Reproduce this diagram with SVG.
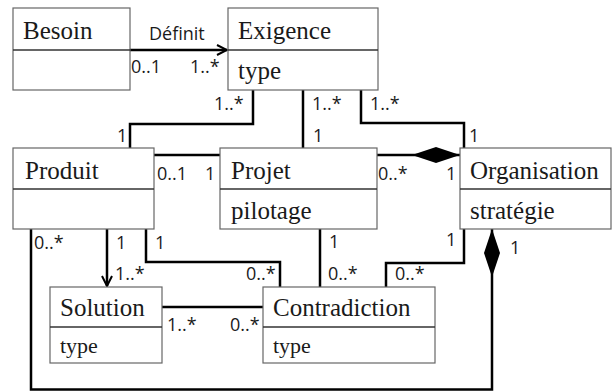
<svg xmlns="http://www.w3.org/2000/svg" width="616" height="392" viewBox="0 0 616 392">
<style>
.box{fill:#fff;stroke:#666;stroke-width:1.2}
.div{stroke:#333;stroke-width:1.6}
.name{font-family:"Liberation Serif",serif;font-size:25px;fill:#1a1a1a}
.attr{font-family:"Liberation Serif",serif;font-size:25px;fill:#1a1a1a}
.attr2{font-family:"Liberation Serif",serif;font-size:22px;fill:#1a1a1a}
.lbl{font-family:"Open Sans","DejaVu Sans",sans-serif;font-size:18px;fill:#1a1a1a}
.con{fill:none;stroke:#000;stroke-width:2.5;stroke-linejoin:miter}
</style>
<defs>
<marker id="open" markerUnits="userSpaceOnUse" viewBox="0 0 12 12" refX="11" refY="6" markerWidth="12" markerHeight="12" orient="auto">
<path d="M1,1 L11,6 L1,11" fill="none" stroke="#000" stroke-width="2"/>
</marker>
<marker id="diamond" markerUnits="userSpaceOnUse" viewBox="0 0 48 16" refX="48" refY="8" markerWidth="48" markerHeight="16" orient="auto">
<path d="M0,8 L24,0 L48,8 L24,16 Z" fill="#000"/>
</marker>
</defs>

<g id="connectors">
<path class="con" d="M130,50 H227" marker-end="url(#open)"/>
<path class="con" d="M253,90 V124 H130 V148"/>
<path class="con" d="M303,90 V148"/>
<path class="con" d="M361,90 V123 H464 V148"/>
<path class="con" d="M154,155 H220"/>
<path class="con" d="M377,155 H460" marker-end="url(#diamond)"/>
<path class="con" d="M107,229 V286" marker-end="url(#open)"/>
<path class="con" d="M146,229 V262 H280 V287"/>
<path class="con" d="M31,229 V389.5 H492 V229" marker-end="url(#diamond)"/>
<path class="con" d="M320,229 V287"/>
<path class="con" d="M464,229 V263 H386 V287"/>
<path class="con" d="M162,307 H263"/>
<text class="lbl" x="149" y="40">Définit</text>
<text class="lbl" x="131" y="73">0..1</text>
<text class="lbl" x="190" y="73">1..*</text>
<text class="lbl" x="214" y="110">1..*</text>
<text class="lbl" x="117" y="142">1</text>
<text class="lbl" x="312" y="110">1..*</text>
<text class="lbl" x="313" y="142">1</text>
<text class="lbl" x="370" y="110">1..*</text>
<text class="lbl" x="469" y="142">1</text>
<text class="lbl" x="157" y="180">0..1</text>
<text class="lbl" x="205" y="180">1</text>
<text class="lbl" x="378" y="180">0..*</text>
<text class="lbl" x="446" y="180">1</text>
<text class="lbl" x="34" y="249">0..*</text>
<text class="lbl" x="116" y="249">1</text>
<text class="lbl" x="155" y="249">1</text>
<text class="lbl" x="115" y="280">1..*</text>
<text class="lbl" x="246" y="280">0..*</text>
<text class="lbl" x="329" y="248">1</text>
<text class="lbl" x="328" y="280">0..*</text>
<text class="lbl" x="446" y="246">1</text>
<text class="lbl" x="395" y="280">0..*</text>
<text class="lbl" x="510" y="254">1</text>
<text class="lbl" x="167" y="331">1..*</text>
<text class="lbl" x="230" y="331">0..*</text>
</g>

<g id="Besoin">
<rect class="box" x="13" y="8" width="117" height="82"/>
<line class="div" x1="13" y1="50" x2="130" y2="50"/>
<text class="name" x="23" y="39">Besoin</text>
</g>
<g id="Exigence">
<rect class="box" x="228" y="8" width="150" height="82"/>
<line class="div" x1="228" y1="50" x2="378" y2="50"/>
<text class="name" x="238" y="39">Exigence</text>
<text class="attr" x="238" y="79">type</text>
</g>
<g id="Produit">
<rect class="box" x="13" y="148" width="141" height="81"/>
<line class="div" x1="13" y1="189" x2="154" y2="189"/>
<text class="name" x="25" y="179">Produit</text>
</g>
<g id="Projet">
<rect class="box" x="220" y="148" width="157" height="81"/>
<line class="div" x1="220" y1="189" x2="377" y2="189"/>
<text class="name" x="231" y="179">Projet</text>
<text class="attr" x="231" y="219">pilotage</text>
</g>
<g id="Organisation">
<rect class="box" x="460" y="148" width="151" height="81"/>
<line class="div" x1="460" y1="189" x2="611" y2="189"/>
<text class="name" x="470" y="179">Organisation</text>
<text class="attr" x="470" y="219">stratégie</text>
</g>
<g id="Solution">
<rect class="box" x="50" y="287" width="112" height="76"/>
<line class="div" x1="50" y1="327" x2="162" y2="327"/>
<text class="name" x="60" y="316">Solution</text>
<text class="attr2" x="60" y="353">type</text>
</g>
<g id="Contradiction">
<rect class="box" x="263" y="287" width="172" height="76"/>
<line class="div" x1="263" y1="327" x2="435" y2="327"/>
<text class="name" x="273" y="316">Contradiction</text>
<text class="attr2" x="273" y="353">type</text>
</g>
</svg>
